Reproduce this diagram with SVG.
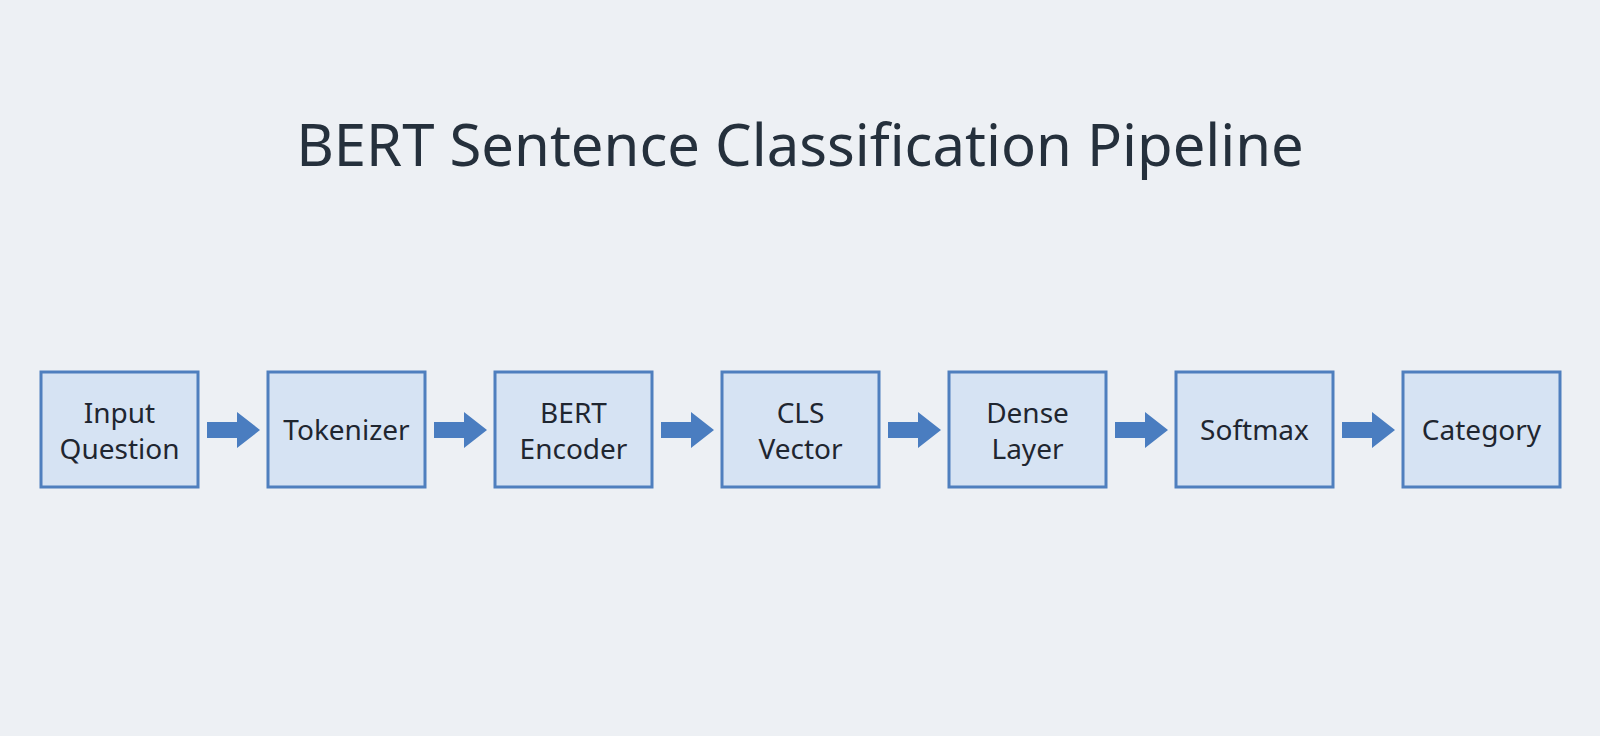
<svg xmlns="http://www.w3.org/2000/svg" width="1600" height="736" viewBox="0 0 1600 736">
<style>
.box{fill:#d6e3f3;stroke:#4f7fbe;stroke-width:3}
.t{font-family:"Noto Sans","Liberation Sans",sans-serif;font-size:28px;fill:#1f2630;text-anchor:middle}
.title{font-family:"Noto Sans","Liberation Sans",sans-serif;font-size:58px;fill:#25303c;text-anchor:middle}
.arr{fill:#4a7dc0}
</style>
<rect width="1600" height="736" fill="#edf0f4"/>
<text class="title" x="800" y="166">BERT Sentence Classification Pipeline</text>
<g id="connectors">
<path class="arr" d="M207,422 H237 V412 L260,430 L237,448 V438 H207 Z"/>
<path class="arr" d="M434,422 H464 V412 L487,430 L464,448 V438 H434 Z"/>
<path class="arr" d="M661,422 H691 V412 L714,430 L691,448 V438 H661 Z"/>
<path class="arr" d="M888,422 H918 V412 L941,430 L918,448 V438 H888 Z"/>
<path class="arr" d="M1115,422 H1145 V412 L1168,430 L1145,448 V438 H1115 Z"/>
<path class="arr" d="M1342,422 H1372 V412 L1395,430 L1372,448 V438 H1342 Z"/>
</g>
<g id="n1"><rect class="box" x="41" y="372" width="157" height="115"/><text class="t" x="119.5" y="423">Input</text><text class="t" x="119.5" y="459">Question</text></g>
<g id="n2"><rect class="box" x="268" y="372" width="157" height="115"/><text class="t" x="346.5" y="440">Tokenizer</text></g>
<g id="n3"><rect class="box" x="495" y="372" width="157" height="115"/><text class="t" x="573.5" y="423">BERT</text><text class="t" x="573.5" y="459">Encoder</text></g>
<g id="n4"><rect class="box" x="722" y="372" width="157" height="115"/><text class="t" x="800.5" y="423">CLS</text><text class="t" x="800.5" y="459">Vector</text></g>
<g id="n5"><rect class="box" x="949" y="372" width="157" height="115"/><text class="t" x="1027.5" y="423">Dense</text><text class="t" x="1027.5" y="459">Layer</text></g>
<g id="n6"><rect class="box" x="1176" y="372" width="157" height="115"/><text class="t" x="1254.5" y="440">Softmax</text></g>
<g id="n7"><rect class="box" x="1403" y="372" width="157" height="115"/><text class="t" x="1481.5" y="440">Category</text></g>
</svg>
